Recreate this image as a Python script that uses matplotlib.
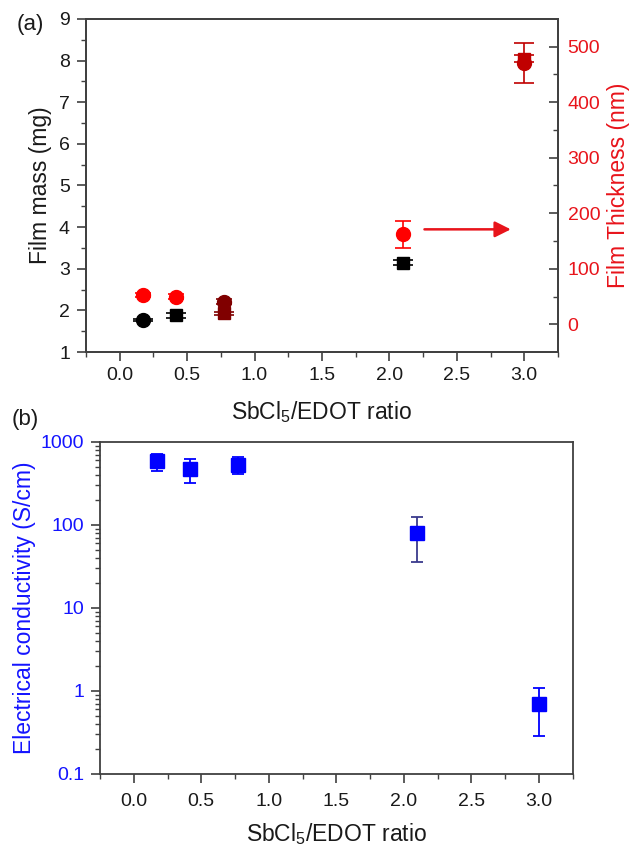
import matplotlib
matplotlib.use('Agg')
import matplotlib.pyplot as plt
from matplotlib.ticker import MultipleLocator, LogLocator, NullFormatter, FixedLocator, FixedFormatter

plt.rcParams['font.family'] = ['Liberation Sans', 'DejaVu Sans']
plt.rcParams['mathtext.fontset'] = 'custom'
plt.rcParams['mathtext.rm'] = 'Liberation Sans'
plt.rcParams['mathtext.it'] = 'Liberation Sans:italic'

# (a) film mass and thickness vs SbCl5/EDOT ratio
ratio_a = [0.17, 0.42, 0.77, 2.1, 3.0]
film_mass = [1.77, 1.88, 1.93, 3.15, 8.05]
film_mass_err = [0.02, 0.06, 0.03, 0.06, 0.08]
mass_markers = ['o', 's', 's', 's', 's']
mass_colors = ['black', 'black', '#800000', 'black', '#c00000']
thickness = [53, 50, 41, 162, 470]
thickness_err = [4, 4, 4, 24, 36]
thick_colors = ['#ff0000', '#ff0000', '#800000', '#ff0000', '#c00000']

# (b) electrical conductivity
ratio_b = [0.17, 0.42, 0.77, 2.1, 3.0]
conductivity = [580, 470, 530, 80, 0.69]
conductivity_err = [133, 150, 125, 44, 0.4]
cond_err_colors = ['#0000ff', '#0000ff', '#0000ff', '#3a3a8c', '#0000ff']

RED = '#e8141b'
BLUE = '#1414ff'
SPINE = '#404040'

fig = plt.figure(figsize=(6.34, 8.47), dpi=100)

# ---- panel (a)
ax1 = fig.add_axes([0.1356, 0.5844, 0.7445, 0.3932])
ax2 = ax1.twinx()

for x, m, e, mk, c in zip(ratio_a, film_mass, film_mass_err, mass_markers, mass_colors):
    ax1.errorbar(x, m, yerr=e, fmt=mk, color=c, ms=9 if mk == 's' else 10,
                 capsize=7, elinewidth=1.2, capthick=1.2)

for x, t, e, c in zip(ratio_a, thickness, thickness_err, thick_colors):
    ax2.errorbar(x, t, yerr=e, fmt='o', color=c, ms=10,
                 capsize=6 if e < 30 else 7, elinewidth=1.2, capthick=1.2)

ax2.annotate('', xy=(2.9, 171), xytext=(2.26, 171),
             arrowprops=dict(arrowstyle='-|>,head_length=0.6,head_width=0.3',
                             color=RED, lw=1.8, mutation_scale=16,
                             shrinkA=0, shrinkB=0))

ax1.set_xlim(-0.25, 3.25)
ax1.set_ylim(1, 9)
ax2.set_ylim(-50, 550)
ax1.xaxis.set_major_locator(MultipleLocator(0.5))
ax1.xaxis.set_minor_locator(MultipleLocator(0.25))
ax1.yaxis.set_major_locator(MultipleLocator(1))
ax1.yaxis.set_minor_locator(MultipleLocator(0.5))
ax2.yaxis.set_major_locator(FixedLocator([0, 100, 200, 300, 400, 500]))
ax2.yaxis.set_minor_locator(FixedLocator([50, 150, 250, 350, 450]))

ax1.tick_params(which='major', direction='out', length=6.5, width=1.2,
                labelsize=14, color=SPINE, labelcolor='#1a1a1a')
ax1.tick_params(which='minor', direction='out', length=3.5, width=1.0, color=SPINE)
ax1.tick_params(axis='x', pad=4)
ax1.tick_params(axis='y', pad=5)
ax2.tick_params(which='major', direction='in', length=6.5, width=1.2,
                labelsize=14, color=SPINE, labelcolor=RED, pad=7)
ax2.tick_params(which='minor', direction='in', length=3.5, width=1.0, color=SPINE)

for ax in (ax1, ax2):
    for s in ax.spines.values():
        s.set_color(SPINE)
        s.set_linewidth(1.3)

ax1.set_xlabel('SbCl$_5$/EDOT ratio', fontsize=16.5, color='#1a1a1a', labelpad=11)
ax1.set_ylabel('Film mass (mg)', fontsize=16.5, color='#1a1a1a', labelpad=5)
ax2.set_ylabel('Film Thickness (nm)', fontsize=16.5, color=RED, labelpad=5)
fig.text(0.048, 0.971, '(a)', fontsize=16, ha='center', va='center', color='#1a1a1a')

# ---- panel (b)
ax3 = fig.add_axes([0.1577, 0.0862, 0.7456, 0.3922])
ax3.set_yscale('log')

for x, s, e, ec in zip(ratio_b, conductivity, conductivity_err, cond_err_colors):
    ax3.errorbar(x, s, yerr=e, fmt='s', color='#0000ff', ecolor=ec, ms=10,
                 capsize=4.5, elinewidth=1.3, capthick=1.3)

ax3.set_xlim(-0.25, 3.25)
ax3.set_ylim(0.1, 1000)
ax3.xaxis.set_major_locator(MultipleLocator(0.5))
ax3.xaxis.set_minor_locator(MultipleLocator(0.25))
ax3.yaxis.set_major_locator(FixedLocator([0.1, 1, 10, 100, 1000]))
ax3.yaxis.set_major_formatter(FixedFormatter(['0.1', '1', '10', '100', '1000']))
ax3.yaxis.set_minor_locator(LogLocator(base=10, subs=range(2, 10), numticks=20))
ax3.yaxis.set_minor_formatter(NullFormatter())

ax3.tick_params(which='major', direction='out', length=6.5, width=1.2,
                labelsize=14, color=SPINE)
ax3.tick_params(which='minor', direction='out', length=3.5, width=1.0, color=SPINE)
ax3.tick_params(axis='x', pad=7, labelcolor='#1a1a1a')
ax3.tick_params(axis='y', pad=5, labelcolor=BLUE)
for s in ax3.spines.values():
    s.set_color(SPINE)
    s.set_linewidth(1.3)

ax3.set_xlabel('SbCl$_5$/EDOT ratio', fontsize=16.5, color='#1a1a1a', labelpad=8)
ax3.set_ylabel('Electrical conductivity (S/cm)', fontsize=16.5, color=BLUE, labelpad=3)
fig.text(0.04, 0.505, '(b)', fontsize=16, ha='center', va='center', color='#1a1a1a')

fig.savefig('out.png', dpi=100)
